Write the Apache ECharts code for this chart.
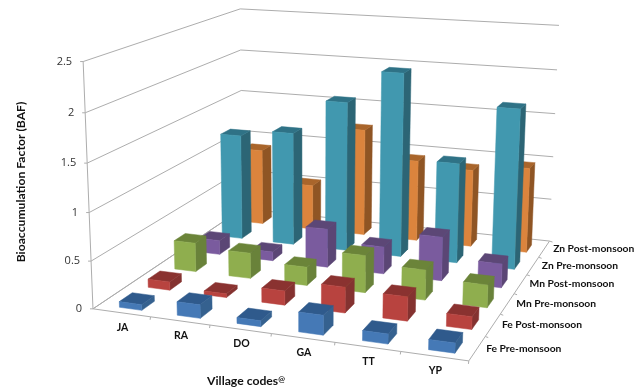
<!DOCTYPE html>
<html>
<head>
<meta charset="utf-8">
<style>html,body{margin:0;padding:0;background:#fff}#c{width:644px;height:391px}</style>
<script src="https://cdn.jsdelivr.net/npm/echarts@6/dist/echarts.min.js"></script>
</head>
<body>
<div id="c"></div>
<script>
const villages = ['JA', 'RA', 'DO', 'GA', 'TT', 'YP'];
const seriesNames = ['Fe Pre-monsoon', 'Fe Post-monsoon', 'Mn Pre-monsoon', 'Mn Post-monsoon', 'Zn Pre-monsoon', 'Zn Post-monsoon'];
const fePre  = [0.06, 0.14, 0.06, 0.20, 0.10, 0.10];
const fePost = [0.09, 0.04, 0.15, 0.27, 0.25, 0.13];
const mnPre  = [0.32, 0.28, 0.20, 0.40, 0.32, 0.24];
const mnPost = [0.16, 0.10, 0.43, 0.30, 0.48, 0.26];
const znPre  = [1.22, 1.30, 1.70, 2.07, 1.12, 1.77];
const znPost = [0.90, 0.53, 1.25, 0.94, 0.89, 0.97];
const allValues = [fePre, fePost, mnPre, mnPost, znPre, znPost];
const valueTicks = [0, 0.5, 1, 1.5, 2, 2.5];

// front, top and side shades of each bar colour
const shades = [
  ['#4579b6', '#2f5a8c', '#35618f'],
  ['#b8433f', '#8a3230', '#843230'],
  ['#8fae4e', '#6b8439', '#69823a'],
  ['#7a5b9e', '#5c4776', '#5b4675'],
  ['#4198af', '#2f7286', '#2c6575'],
  ['#db843d', '#a9652b', '#8f5524']
];

// Perspective camera: least-squares 3x4 projection fitted to points of the box frame.
// Box space is x (villages), y (depth), z (value), each 0..1.
const anchors = [
  [0,0,0, 94,309], [1,0,0, 468,360], [1,1,0, 551,241], [0,1,0, 241,207],
  [0,0,1, 82,61],  [0,1,1, 241,9],   [1,1,1, 559,25],
  [0,0,0.2, 91,261], [0,0,0.4, 89,212], [0,0,0.6, 88,163], [0,0,0.8, 85,112],
  [1,1,0.2, 551,199], [1,1,0.4, 553,157], [1,1,0.6, 555,114], [1,1,0.8, 557,70],
  [1/6,0,0, 151,318], [2/6,0,0, 210,326], [3/6,0,0, 272,334], [4/6,0,0, 335,343], [5/6,0,0, 400,351],
  [0,1,0.8, 241,51], [0,1,0.6, 241,91]
];
function solve(A, b) {
  const n = b.length;
  const m = A.map((r, i) => r.concat(b[i]));
  for (let i = 0; i < n; i++) {
    let p = i;
    for (let k = i + 1; k < n; k++) if (Math.abs(m[k][i]) > Math.abs(m[p][i])) p = k;
    [m[i], m[p]] = [m[p], m[i]];
    for (let k = i + 1; k < n; k++) {
      const f = m[k][i] / m[i][i];
      for (let j = i; j <= n; j++) m[k][j] -= f * m[i][j];
    }
  }
  const x = new Array(n).fill(0);
  for (let i = n - 1; i >= 0; i--) {
    let s = m[i][n];
    for (let j = i + 1; j < n; j++) s -= m[i][j] * x[j];
    x[i] = s / m[i][i];
  }
  return x;
}
function fitCamera() {
  const rows = [], rhs = [];
  anchors.forEach(([x, y, z, u, v]) => {
    rows.push([x, y, z, 1, 0, 0, 0, 0, -u * x, -u * y, -u * z]); rhs.push(u);
    rows.push([0, 0, 0, 0, x, y, z, 1, -v * x, -v * y, -v * z]); rhs.push(v);
  });
  const N = 11;
  const AtA = Array.from({ length: N }, (_, i) => Array.from({ length: N }, (_, j) =>
    rows.reduce((s, r) => s + r[i] * r[j], 0)));
  const Atb = Array.from({ length: N }, (_, i) => rows.reduce((s, r, k) => s + r[i] * rhs[k], 0));
  return solve(AtA, Atb);
}
const cam = fitCamera();
function project(x, y, z) {
  const w = cam[8] * x + cam[9] * y + cam[10] * z + 1;
  return [(cam[0] * x + cam[1] * y + cam[2] * z + cam[3]) / w,
          (cam[4] * x + cam[5] * y + cam[6] * z + cam[7]) / w];
}

// The hidden cartesian grid supplies the scales; its pixels are read as box fractions.
const GW = 600, GH = 300;
const boxX = (api, cat) => api.coord([cat, 0])[0] / GW;
const boxZ = (api, val) => (GH - api.coord([0, val])[1]) / GH;

const BAR_W = 0.39, BAR_D = 0.44, X_SHIFT = 0.05, Y_SHIFT = -0.012;
function barSeries(rowIdx) {
  return {
    type: 'custom', name: seriesNames[rowIdx], z: 10 - rowIdx, silent: true, clip: false,
    data: allValues[rowIdx].map((v, i) => [i, v]),
    encode: { x: 0, y: 1 },
    renderItem(params, api) {
      const band = api.size([1, 0])[0] / GW;
      const cx = boxX(api, api.value(0)) + band * X_SHIFT, top = boxZ(api, api.value(1));
      const hw = band * BAR_W / 2;
      const cy = (rowIdx + 0.5) / seriesNames.length + Y_SHIFT, hd = BAR_D / seriesNames.length / 2;
      const x0 = cx - hw, x1 = cx + hw, y0 = cy - hd, y1 = cy + hd;
      const [fc, tc, sc] = shades[rowIdx];
      const face = (pts, color) => ({
        type: 'polygon', shape: { points: pts.map(p => project(p[0], p[1], p[2])) },
        style: { fill: color, stroke: color, lineWidth: 0.5 }
      });
      return { type: 'group', children: [
        face([[x1,y0,0],[x1,y1,0],[x1,y1,top],[x1,y0,top]], sc),
        face([[x0,y0,top],[x1,y0,top],[x1,y1,top],[x0,y1,top]], tc),
        face([[x0,y0,0],[x1,y0,0],[x1,y0,top],[x0,y0,top]], fc)
      ] };
    }
  };
}

const LINE = '#adadad';
const seg = (a, b) => ({ type: 'line', shape: { x1: a[0], y1: a[1], x2: b[0], y2: b[1] },
  style: { stroke: LINE, lineWidth: 1 } });
const label = (p, text, font, align, color) => ({ type: 'text', x: p[0], y: p[1],
  style: { text, font, align: align, verticalAlign: 'middle', fill: color || '#222' } });

// Value axis: wall gridlines, ticks and numbers
const valueAxis = {
  type: 'custom', z: 1, silent: true, clip: false,
  data: valueTicks.map(v => [0, v]), encode: { x: 0, y: 1 },
  renderItem(params, api) {
    const v = api.value(1), z = boxZ(api, v);
    const a = project(0, 0, z), b = project(0, 1, z), c = project(1, 1, z);
    const kids = [
      { type: 'polyline', shape: { points: [a, b, c] }, style: { stroke: LINE, lineWidth: 1, fill: null } },
      seg([a[0] - 3, a[1]], a),
      label([a[0] - 11, a[1]], String(v), '11px "Open Sans"', 'right', '#333')
    ];
    if (params.dataIndex > 0) kids.push(seg(a, project(0, 0, boxZ(api, valueTicks[params.dataIndex - 1]))));
    return { type: 'group', children: kids };
  }
};

// Village axis along the front floor edge
const villageAxis = {
  type: 'custom', z: 2, silent: true, clip: false,
  data: villages.map((_, i) => [i, 0]), encode: { x: 0, y: 1 },
  renderItem(params, api) {
    const i = api.value(0), cx = boxX(api, i), hw = api.size([1, 0])[0] / GW / 2;
    const a = project(cx - hw, 0, 0), b = project(cx + hw, 0, 0), m = project(cx, 0, 0);
    return { type: 'group', children: [
      seg(a, b), seg(b, [b[0] - 0.4, b[1] + 3]),
      label([m[0] + 1, m[1] + 14.5], villages[i], 'bold 10.5px Lato', 'center', '#111')
    ] };
  }
};

// Series names along the right floor edge
const depthAxis = {
  type: 'custom', z: 2, silent: true, clip: false,
  data: seriesNames.map((_, i) => [0, 0, i]), encode: { x: 0, y: 1 },
  renderItem(params, api) {
    const i = api.value(2), n = seriesNames.length;
    const a = project(1, i / n, 0), b = project(1, (i + 1) / n, 0), m = project(1, (i + 0.5) / n, 0);
    return { type: 'group', children: [
      seg(a, b), seg(b, [b[0] + 3, b[1] + 1]),
      label([m[0] + 9, m[1]], seriesNames[i], 'bold 10.3px Lato', 'left', '#111')
    ] };
  }
};

// Left floor edge
const floorEdge = {
  type: 'custom', z: 2, silent: true, clip: false, data: [[0, 0]], encode: { x: 0, y: 1 },
  renderItem() { return seg(project(0, 0, 0), project(0, 1, 0)); }
};

const chart = echarts.init(document.getElementById('c'), null, { renderer: 'canvas' });
chart.setOption({
  animation: false,
  backgroundColor: '#fff',
  grid: { left: 0, top: 0, width: GW, height: GH, show: false },
  xAxis: { type: 'category', data: villages, show: false },
  yAxis: { type: 'value', min: 0, max: 2.5, interval: 0.5, show: false },
  graphic: [
    { type: 'text', x: 21, y: 182, rotation: Math.PI / 2, silent: true,
      style: { text: 'Bioaccumulation Factor (BAF)', font: 'bold 12.2px Lato', fill: '#111', align: 'center', verticalAlign: 'middle' } },
    { type: 'text', x: 246, y: 381, silent: true,
      style: { text: '{a|Village codes}{b|@}', align: 'center', verticalAlign: 'middle', fill: '#111',
        rich: { a: { font: 'bold 12.2px Lato', fill: '#111' },
                b: { font: 'bold 8px Lato', fill: '#111', verticalAlign: 'top', padding: [0, 0, 4, 0] } } } }
  ],
  series: [valueAxis, villageAxis, depthAxis, floorEdge].concat(seriesNames.map((_, i) => barSeries(i)))
});
</script>
</body>
</html>
